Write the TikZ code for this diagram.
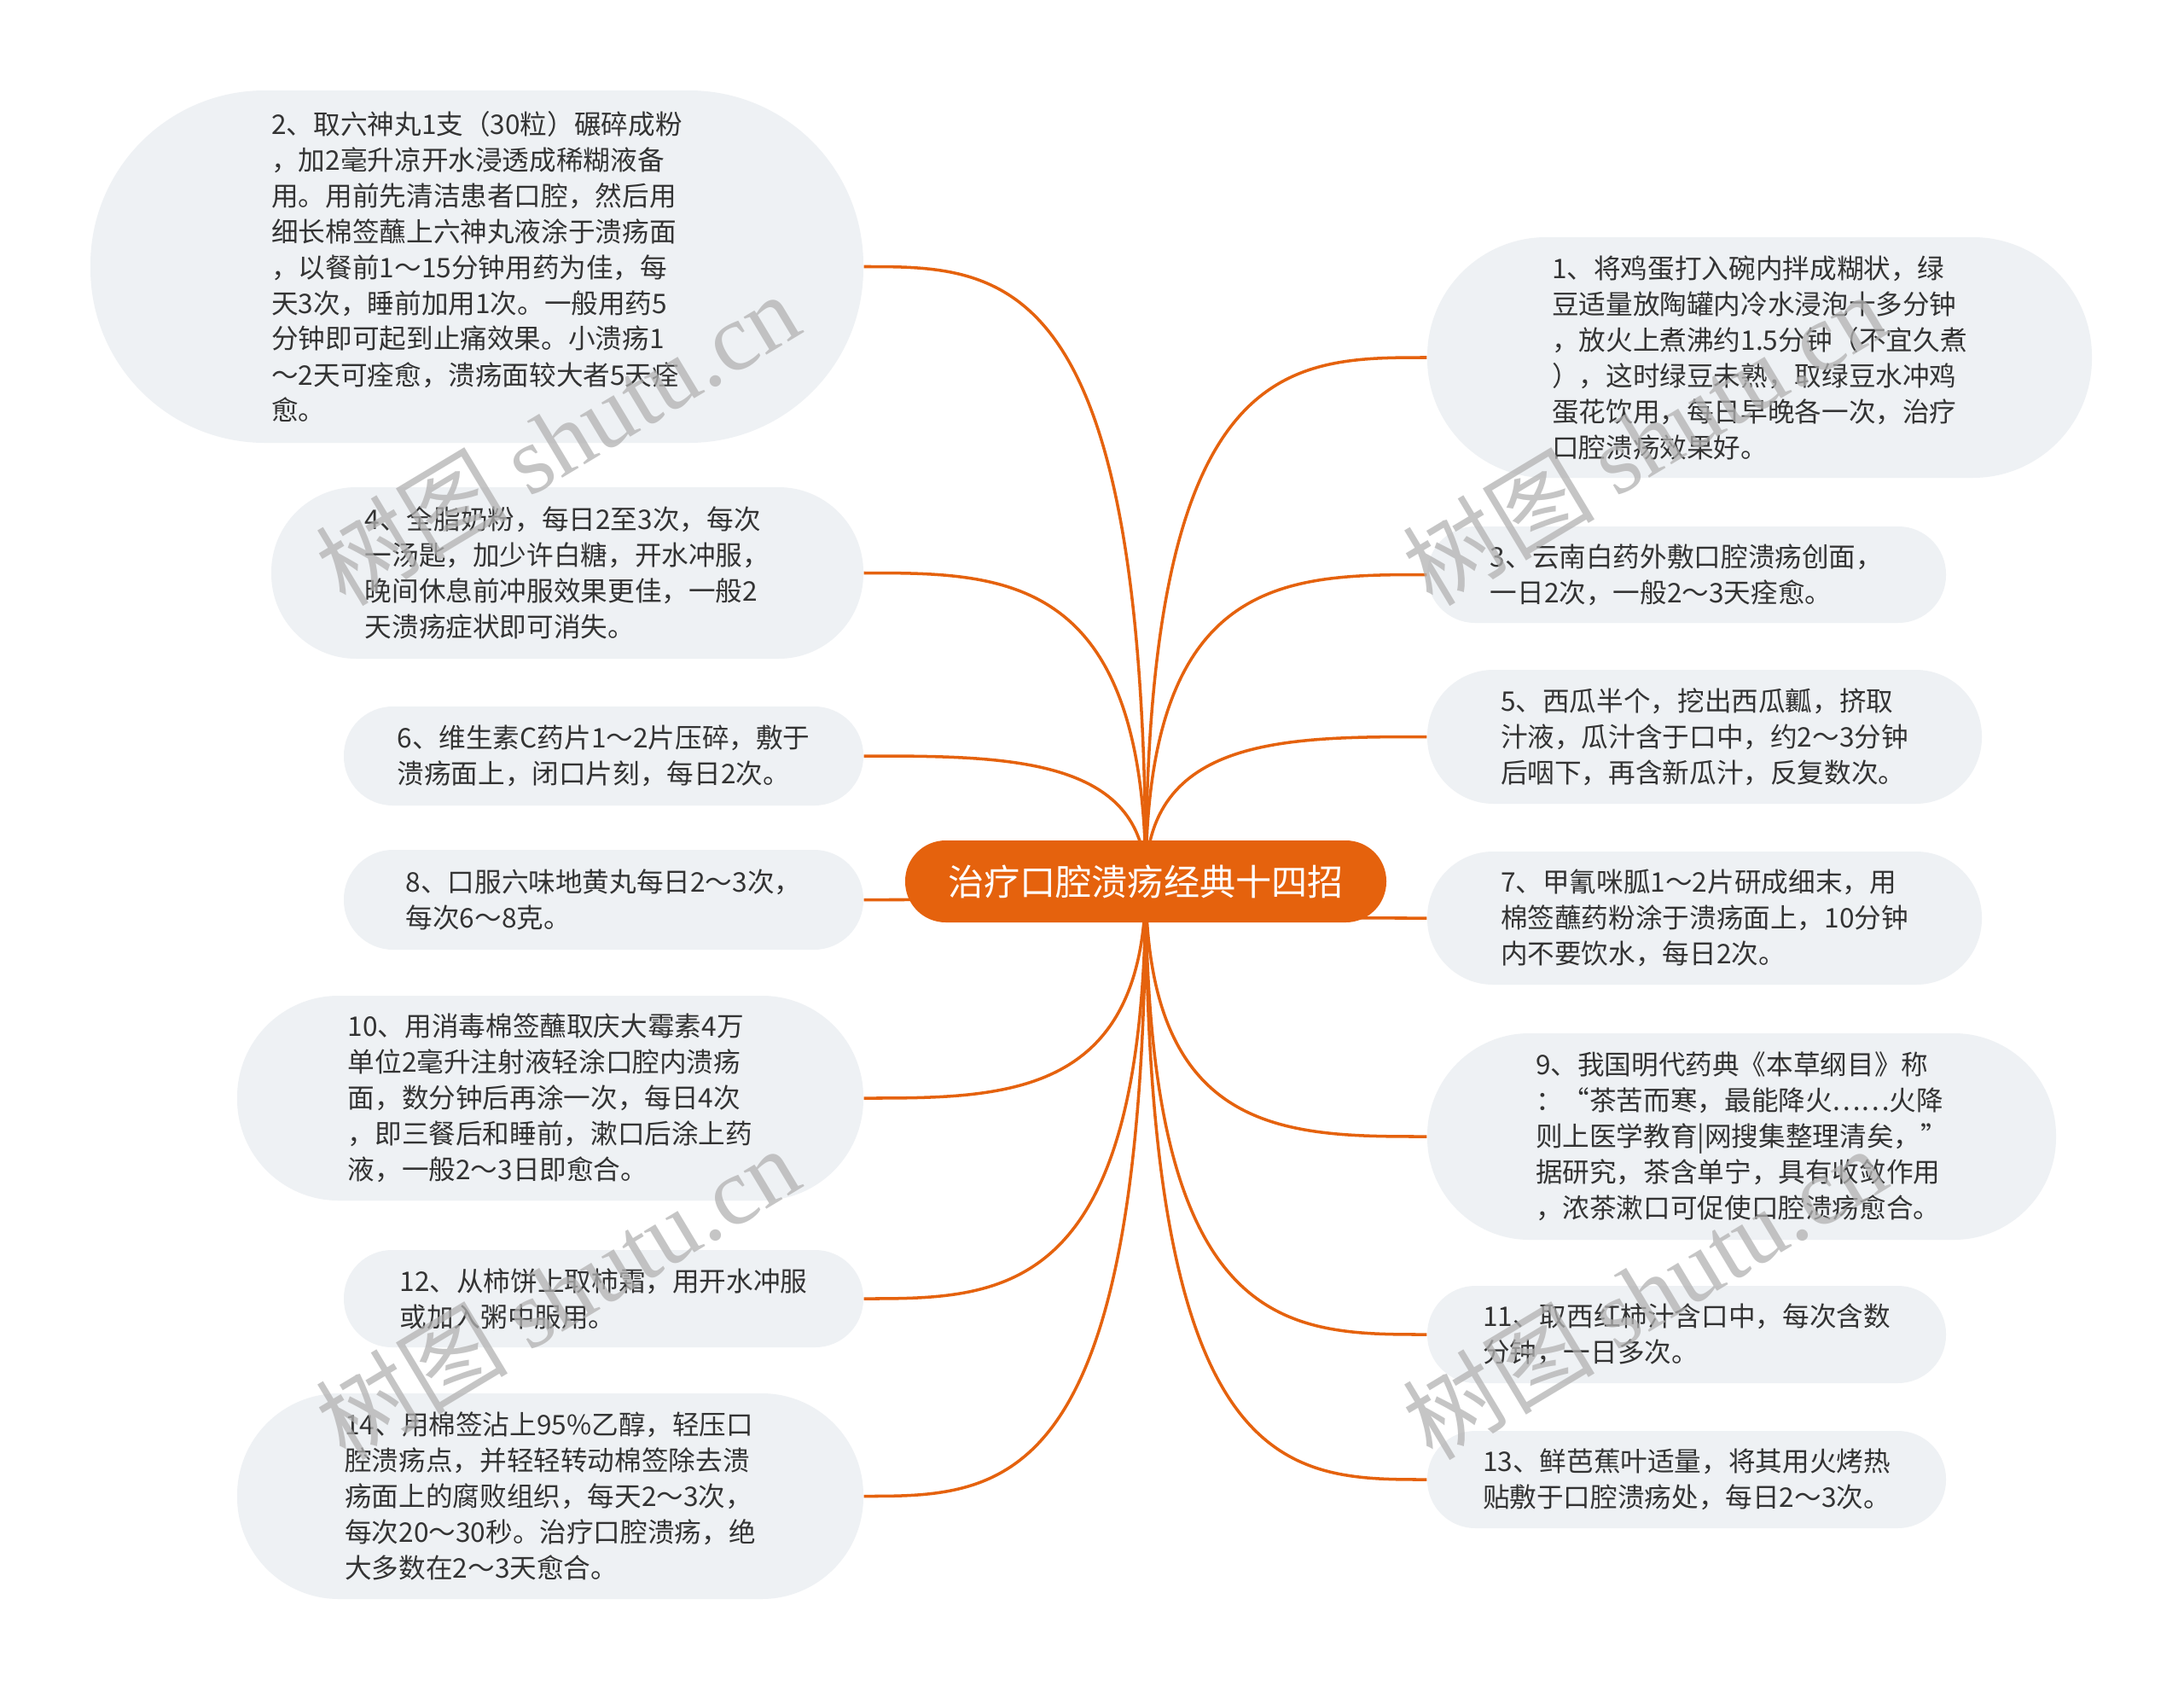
\documentclass[tikz,border=0pt]{standalone}
\usepackage{fontspec}
\setmainfont{Noto Sans CJK SC}
\newfontfamily\wmserif{Liberation Serif}
\usetikzlibrary{calc}
\definecolor{accent}{HTML}{E5620D}
\definecolor{leafgray}{HTML}{EEF1F4}
\definecolor{inkgray}{HTML}{333333}

\begin{document}
\begin{tikzpicture}[
    leaf/.style 2 args={fill=leafgray, text=inkgray, align=left, minimum width=#1cm,
      minimum height=#2cm, rounded corners=#2*0.495cm, font=\fontsize{9pt}{11.95pt}\selectfont},
    root/.style={fill=accent, text=white, minimum width=5.64cm, minimum height=0.96cm,
      rounded corners=0.475cm, font=\fontsize{12pt}{14pt}\selectfont},
    link/.style={draw=accent, line width=1pt},
    wmark/.style={text=black!30, text opacity=0.75, rotate=31, font=\fontsize{32pt}{32pt}\selectfont}
  ]
    \fill[white] (0, 0) rectangle (25.6, -19.83);
    \useasboundingbox (0, 0) rectangle (25.6, -19.83);
    \coordinate (hub) at (13.43, -10.33);

    % left side
    \node[leaf={9.06}{4.13}] (b2) at (5.59, -3.125) {2、取六神丸1支（30粒）碾碎成粉\\
      ，加2毫升凉开水浸透成稀糊液备\\
      用。用前先清洁患者口腔，然后用\\
      细长棉签蘸上六神丸液涂于溃疡面\\
      ，以餐前1～15分钟用药为佳，每\\
      天3次，睡前加用1次。一般用药5\\
      分钟即可起到止痛效果。小溃疡1\\
      ～2天可痊愈，溃疡面较大者5天痊\\
      愈。};
    \node[leaf={6.94}{2.01}] (b4) at (6.65, -6.715) {4、全脂奶粉，每日2至3次，每次\\
      一汤匙，加少许白糖，开水冲服，\\
      晚间休息前冲服效果更佳，一般2\\
      天溃疡症状即可消失。};
    \node[leaf={6.09}{1.16}] (b6) at (7.075, -8.86) {6、维生素C药片1～2片压碎，敷于\\
      溃疡面上，闭口片刻，每日2次。};
    \node[leaf={6.09}{1.17}] (b8) at (7.075, -10.545) {8、口服六味地黄丸每日2～3次，\\
      每次6～8克。};
    \node[leaf={7.34}{2.40}] (b10) at (6.45, -12.87) {10、用消毒棉签蘸取庆大霉素4万\\
      单位2毫升注射液轻涂口腔内溃疡\\
      面，数分钟后再涂一次，每日4次\\
      ，即三餐后和睡前，漱口后涂上药\\
      液，一般2～3日即愈合。};
    \node[leaf={6.09}{1.14}] (b12) at (7.075, -15.22) {12、从柿饼上取柿霜，用开水冲服\\
      或加入粥中服用。};
    \node[leaf={7.34}{2.41}] (b14) at (6.45, -17.535) {14、用棉签沾上95\%乙醇，轻压口\\
      腔溃疡点，并轻轻转动棉签除去溃\\
      疡面上的腐败组织，每天2～3次，\\
      每次20～30秒。治疗口腔溃疡，绝\\
      大多数在2～3天愈合。};

    % right side
    \node[leaf={7.79}{2.82}] (b1) at (20.625, -4.19) {1、将鸡蛋打入碗内拌成糊状，绿\\
      豆适量放陶罐内冷水浸泡十多分钟\\
      ，放火上煮沸约1.5分钟（不宜久煮\\
      ），这时绿豆未熟，取绿豆水冲鸡\\
      蛋花饮用，每日早晚各一次，治疗\\
      口腔溃疡效果好。};
    \node[leaf={6.08}{1.13}] (b3) at (19.77, -6.735) {3、云南白药外敷口腔溃疡创面，\\
      一日2次，一般2～3天痊愈。};
    \node[leaf={6.50}{1.57}] (b5) at (19.98, -8.635) {5、西瓜半个，挖出西瓜瓤，挤取\\
      汁液，瓜汁含于口中，约2～3分钟\\
      后咽下，再含新瓜汁，反复数次。};
    \node[leaf={6.50}{1.56}] (b7) at (19.98, -10.76) {7、甲氰咪胍1～2片研成细末，用\\
      棉签蘸药粉涂于溃疡面上，10分钟\\
      内不要饮水，每日2次。};
    \node[leaf={7.37}{2.42}] (b9) at (20.415, -13.32) {9、我国明代药典《本草纲目》称\\
      ：“茶苦而寒，最能降火……火降\\
      则上医学教育|网搜集整理清矣，”\\
      据研究，茶含单宁，具有收敛作用\\
      ，浓茶漱口可促使口腔溃疡愈合。};
    \node[leaf={6.08}{1.14}] (b11) at (19.77, -15.64) {11、取西红柿汁含口中，每次含数\\
      分钟，一日多次。};
    \node[leaf={6.08}{1.14}] (b13) at (19.77, -17.34) {13、鲜芭蕉叶适量，将其用火烤热\\
      贴敷于口腔溃疡处，每日2～3次。};

    \foreach \b in {b2, b4, b6, b8, b10, b12, b14}
      \draw[link] (hub) .. controls (hub |- \b.east) and ($(hub |- \b.east)!0.5!(\b.east)$) .. (\b.east);
    \foreach \b in {b1, b3, b5, b7, b9, b11, b13}
      \draw[link] (hub) .. controls (hub |- \b.west) and ($(hub |- \b.west)!0.5!(\b.west)$) .. (\b.west);

    \node[root] (root) at (hub) {治疗口腔溃疡经典十四招};

    % watermark
    \node[wmark] (wm1) at (6.53, -5.14) {树图 {\wmserif shutu.cn}};
    \node[wmark] (wm2) at (19.27, -5.14) {树图 {\wmserif shutu.cn}};
    \node[wmark] (wm3) at (6.53, -15.15) {树图 {\wmserif shutu.cn}};
    \node[wmark] (wm4) at (19.27, -15.15) {树图 {\wmserif shutu.cn}};
  \end{tikzpicture}
\end{document}
